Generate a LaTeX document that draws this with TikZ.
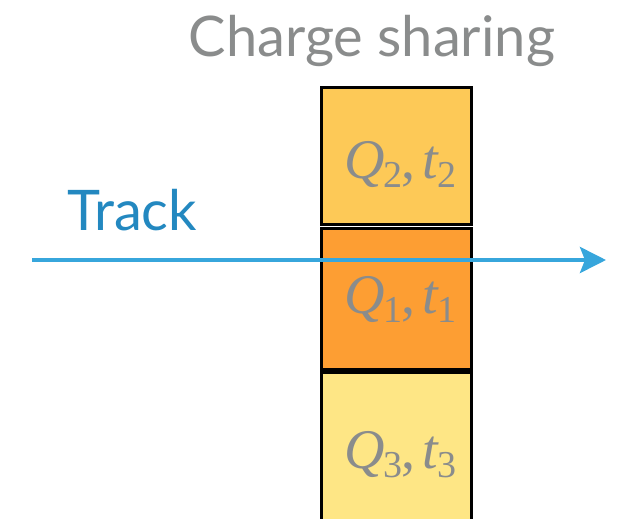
\documentclass[tikz,border=0pt]{standalone}
\usepackage{fontspec}
\setmainfont{Lato}
\newfontfamily\tms{Liberation Serif}
\usetikzlibrary{arrows.meta}
\definecolor{boxtwo}{HTML}{FDC957}
\definecolor{boxone}{HTML}{FD9E33}
\definecolor{boxthree}{HTML}{FEE685}
\definecolor{txtgray}{HTML}{8A8C8C}
\definecolor{trackblue}{HTML}{37A6DC}
\definecolor{tracktext}{HTML}{2388C0}
\newcommand{\subdig}[1]{\raisebox{-9pt}{\fontsize{38}{40}\selectfont\tms #1}}
\newcommand{\qtpair}[1]{{\tms\itshape Q}\kern-1pt\subdig{#1}\kern-1pt{\tms ,}\kern7pt{\tms\itshape t}\kern-1pt\subdig{#1}}
\begin{document}
\begin{tikzpicture}[x=1pt,y=-1pt,
  pixel/.style={draw=black,line width=3pt,minimum width=150pt,inner sep=0pt,outer sep=0pt},
  qt/.style={text=txtgray,inner sep=0pt,font=\fontsize{56}{60}\selectfont},
  lbl/.style={inner sep=0pt,font=\fontsize{56}{60}\selectfont}]
\useasboundingbox (0,0) rectangle (621,519);
\begin{scope}
\clip (0,0) rectangle (621,519);
\node[pixel,fill=boxtwo,minimum height=137pt] (p2) at (396.5,156) {};
\node[pixel,fill=boxone,minimum height=141pt] (p1) at (396.5,299) {};
\node[pixel,fill=boxthree,minimum height=160pt] (p3) at (396.5,452) {};
\end{scope}
\node[qt,anchor=base] (q2) at (400,178) {\qtpair{2}};
\node[qt,anchor=base] (q1) at (400,313) {\qtpair{1}};
\node[qt,anchor=base] (q3) at (400,468) {\qtpair{3}};
\node[lbl,text=txtgray,anchor=base] (title) at (372,57) {Charge sharing};
\node[lbl,text=tracktext,anchor=base west] (track) at (67,230) {Track};
\coordinate (start) at (32,260);
\coordinate (end) at (606,260);
\draw[trackblue,line width=4pt,-{Stealth[length=26pt,width=26pt,inset=5pt]}] (start) -- (end);
\end{tikzpicture}
\end{document}
